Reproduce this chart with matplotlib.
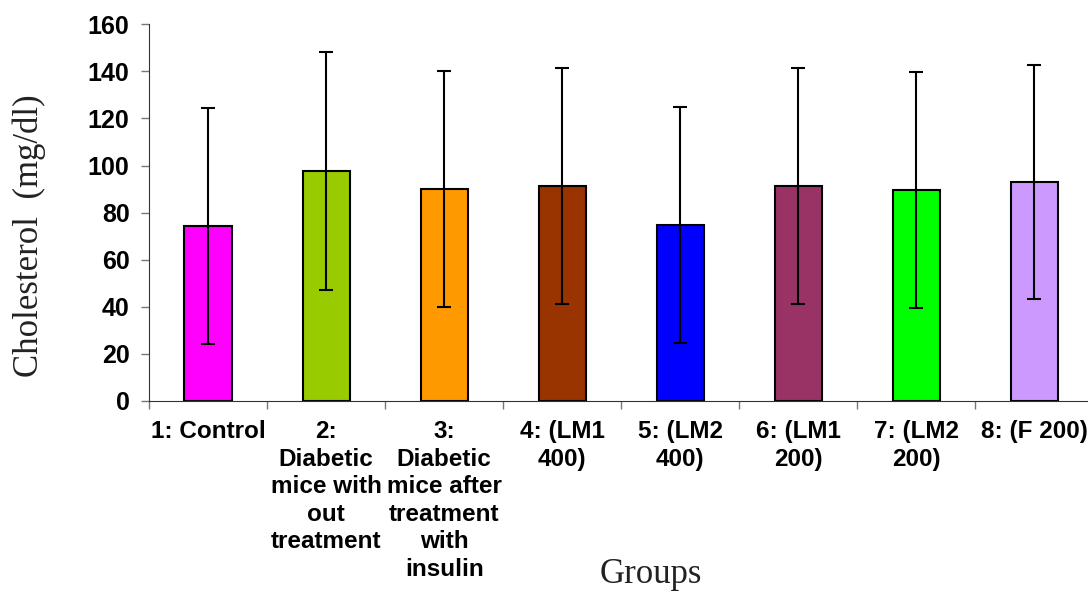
import numpy as np
import matplotlib
matplotlib.use("Agg")
import matplotlib.pyplot as plt

groups = ["1: Control",
          "2:\nDiabetic\nmice with\nout\ntreatment",
          "3:\nDiabetic\nmice after\ntreatment\nwith\ninsulin",
          "4: (LM1\n400)",
          "5: (LM2\n400)",
          "6: (LM1\n200)",
          "7: (LM2\n200)",
          "8: (F 200)"]
means = [74.3, 97.6, 90.0, 91.3, 74.7, 91.3, 89.6, 93.0]
sds = [50.0, 50.4, 50.2, 50.0, 50.0, 50.0, 50.0, 49.5]
colors = ["#FF00FF", "#99CC00", "#FF9900", "#993300",
          "#0000FF", "#993366", "#00FF00", "#CC99FF"]

fig = plt.figure(figsize=(10.88, 5.91), dpi=100)
ax = fig.add_axes([0.137, 0.3215, 0.868, 0.6375])

x = np.arange(len(groups))
ax.bar(x, means, width=0.4, color=colors, edgecolor="black", linewidth=1.5,
       yerr=sds, error_kw=dict(ecolor="black", elinewidth=1.5, capsize=5, capthick=1.5))

ax.set_xlim(-0.5, len(groups) - 0.5)
ax.set_ylim(0, 160)
ax.set_yticks(np.arange(0, 161, 20))
ax.set_xticks(np.arange(-0.5, len(groups), 1.0))
ax.set_xticklabels([])
ax.set_xticks(x, minor=True)
ax.set_xticklabels(groups, minor=True, fontfamily="Liberation Sans",
                   fontweight="bold", fontsize=17.5, linespacing=1.25, va="top")
ax.tick_params(axis="x", which="minor", length=0, pad=14)
ax.tick_params(axis="x", which="major", length=6, color="#777777", width=1)
ax.tick_params(axis="y", length=6, color="#777777", width=1, pad=8)
for lab in ax.get_yticklabels():
    lab.set_fontfamily("Liberation Sans")
    lab.set_fontweight("bold")
    lab.set_fontsize(18)

ax.spines["top"].set_visible(False)
ax.spines["right"].set_visible(False)
ax.spines["left"].set_color("#333333")
ax.spines["bottom"].set_color("#333333")

fig.text(0.027, 0.602, "Cholesterol  (mg/dl)", rotation=90, ha="center", va="center",
         fontfamily="Liberation Serif", fontsize=25, color="#222222")
fig.text(0.598, 0.028, "Groups", ha="center", va="center",
         fontfamily="Liberation Serif", fontsize=25, color="#222222")

fig.savefig("out.png", dpi=100)
